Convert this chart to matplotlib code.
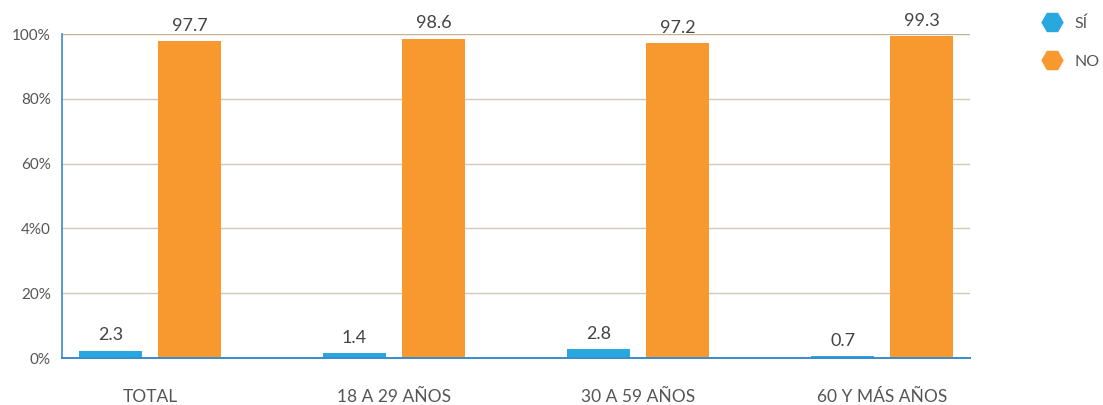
import matplotlib
matplotlib.use("Agg")
import matplotlib.pyplot as plt
from matplotlib.lines import Line2D
import numpy as np

# Datos
grupos = ["TOTAL", "18 A 29 AÑOS", "30 A 59 AÑOS", "60 Y MÁS AÑOS"]
si = [2.3, 1.4, 2.8, 0.7]
no = [97.7, 98.6, 97.2, 99.3]
ticks_y = [0, 20, 40, 60, 80, 100]
etiquetas_y = ["0%", "20%", "4%0", "60%", "80%", "100%"]

AZUL = "#29a8e0"
NARANJA = "#f7992f"
EJE = "#3a8ad0"
GRID = "#d3c8b4"
TEXTO = "#555555"

plt.rcParams["font.family"] = ["Lato", "DejaVu Sans"]

fig = plt.figure(figsize=(11.03, 4.05), dpi=100)
ax = fig.add_axes([62 / 1103, 47 / 405, 908 / 1103, 324 / 405])

x = np.arange(len(grupos))
ancho = 0.258
desp = 0.162

b1 = ax.bar(x - desp, si, ancho, color=AZUL, zorder=3)
b2 = ax.bar(x + desp, no, ancho, color=NARANJA, zorder=3)

for barras, vals in ((b1, si), (b2, no)):
    for rect, v in zip(barras, vals):
        ax.text(rect.get_x() + rect.get_width() / 2, v + 2.2, f"{v}",
                ha="center", va="bottom", fontsize=13, color="#444444")

ax.set_xlim(-0.36, 3.36)
ax.set_ylim(0, 100)
ax.set_yticks(ticks_y)
ax.set_yticklabels(etiquetas_y)
ax.set_xticks(x)
ax.set_xticklabels(grupos)
ax.tick_params(axis="both", length=0, colors=TEXTO)
ax.tick_params(axis="y", labelsize=11, pad=8)
ax.tick_params(axis="x", labelsize=12.5, pad=22)

for y in ticks_y[1:]:
    ax.axhline(y, color="#c4b393" if y == 100 else GRID, lw=1, zorder=1)

for s in ("top", "right"):
    ax.spines[s].set_visible(False)
ax.spines["left"].set_color(EJE)
ax.spines["bottom"].set_color(EJE)
ax.spines["left"].set_linewidth(1.2)
ax.spines["bottom"].set_linewidth(1.4)
ax.spines["bottom"].set_zorder(4)

handles = [
    Line2D([], [], marker="H", linestyle="none", markersize=15,
           markerfacecolor=AZUL, markeredgecolor=AZUL),
    Line2D([], [], marker="H", linestyle="none", markersize=15,
           markerfacecolor=NARANJA, markeredgecolor=NARANJA),
]
fig.legend(handles, ["SÍ", "NO"], loc="upper left",
           bbox_to_anchor=(1022 / 1103, 1 - 2 / 405), frameon=False,
           labelspacing=1.5, handletextpad=0.4, fontsize=11.5,
           labelcolor=TEXTO)

fig.savefig("out.png", dpi=100)
